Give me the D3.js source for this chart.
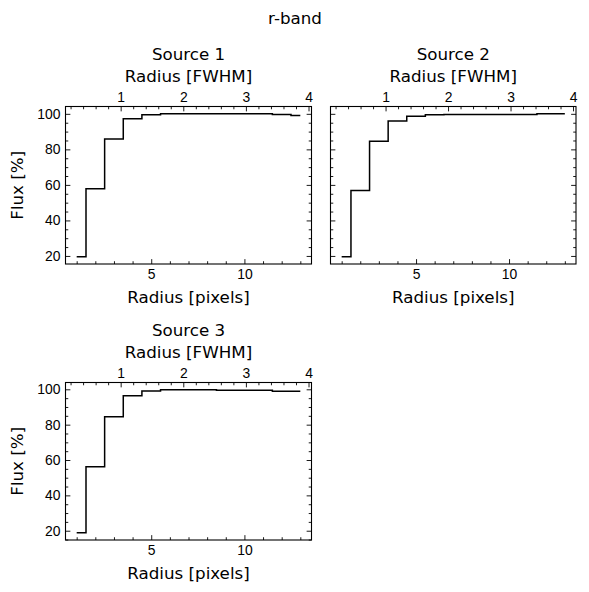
<!DOCTYPE html>
<html>
<head>
<meta charset="utf-8">
<script src="https://cdn.jsdelivr.net/npm/d3@7"></script>
<style>
  body { margin: 0; background: #fff; }
  svg { font-family: "DejaVu Sans", sans-serif; }
  .tick text { font-size: 13.9px; fill: #000; }
  .lbl { font-size: 16.7px; fill: #000; }
</style>
</head>
<body>
<div id="chart"></div>
<script>
const WIDTH = 589
const HEIGHT = 592

// data
const RADIUS_PX = [1, 2, 3, 4, 5, 6, 7, 8, 9, 10, 11, 12, 13]
const SOURCE_1 = [19.5, 57.8, 85.9, 97.2, 99.5, 100.1, 100.1, 100.1, 100.1, 100.1, 100.1, 99.6, 99.0]
const SOURCE_2 = [19.6, 56.9, 84.6, 95.9, 98.7, 99.5, 99.6, 99.6, 99.6, 99.6, 99.6, 100.0, 100.0]
const SOURCE_3 = [18.8, 56.2, 84.5, 96.4, 99.1, 99.8, 99.8, 99.8, 99.4, 99.4, 99.4, 98.9, 98.9]
const SOURCE_NAMES = ['Source 1', 'Source 2', 'Source 3']
const FWHM_PX = 3.36
const X_TICKS = [5, 10]
const Y_TICKS = [20, 40, 60, 80, 100]
const FWHM_TICKS = [1, 2, 3, 4]

const MAJOR = 4.86
const MINOR = 2.78

// panel boxes
const PANELS = [
  { name: SOURCE_NAMES[0], values: SOURCE_1, left: 65.5, top: 106.5, w: 246, h: 157.5, ylabels: true, group: 'a' },
  { name: SOURCE_NAMES[1], values: SOURCE_2, left: 330.5, top: 106.5, w: 245.5, h: 157.5, ylabels: false, group: 'a' },
  { name: SOURCE_NAMES[2], values: SOURCE_3, left: 65.5, top: 382.5, w: 246, h: 157.5, ylabels: true, group: 'b' }
]

function padded(ext) {
  let m = (ext[1] - ext[0]) * 0.05
  return [ext[0] - m, ext[1] + m]
}

let yDomains = {
  a: padded(d3.extent(SOURCE_1.concat(SOURCE_2))),
  b: padded(d3.extent(SOURCE_3))
}
let xDomain = padded(d3.extent(RADIUS_PX))

let svg = d3.select('#chart')
  .append('svg')
    .attr('width', WIDTH)
    .attr('height', HEIGHT)

svg.append('text')
  .attr('class', 'lbl')
  .attr('x', 295)
  .attr('y', 24)
  .attr('text-anchor', 'middle')
  .text('r-band')

function minorTicks(domain, step, majors) {
  let out = []
  let start = Math.ceil(domain[0] / step - 1e-9)
  for (let i = start; i * step <= domain[1] + 1e-9; i++) {
    let v = +(i * step).toFixed(6)
    if (!majors.some((m) => Math.abs(m - v) < 1e-6)) out.push(v)
  }
  return out
}

function styleAxis(g) {
  g.select('.domain').remove()
  g.selectAll('.tick line').attr('stroke', '#000').attr('stroke-width', 0.9)
}

PANELS.forEach((p) => {
  let g = svg.append('g')
    .attr('transform', 'translate(' + [p.left, p.top] + ')')

  let x = d3.scaleLinear().domain(xDomain).range([0, p.w])
  let y = d3.scaleLinear().domain(yDomains[p.group]).range([p.h, 0])
  let xf = d3.scaleLinear().domain(xDomain.map((d) => d / FWHM_PX)).range([0, p.w])

  // bottom axis
  g.append('g')
    .attr('transform', 'translate(0,' + p.h + ')')
    .call(d3.axisBottom(x).tickValues(X_TICKS).tickSize(-MAJOR).tickPadding(5).tickFormat(d3.format('d')))
    .call(styleAxis)
    .selectAll('.tick text').attr('dy', '0.71em')
  g.append('g')
    .attr('transform', 'translate(0,' + p.h + ')')
    .call(d3.axisBottom(x).tickValues(minorTicks(xDomain, 1, X_TICKS)).tickSize(-MINOR).tickFormat(''))
    .call(styleAxis)

  // top axis in FWHM
  g.append('g')
    .call(d3.axisTop(xf).tickValues(FWHM_TICKS).tickSize(-MAJOR).tickPadding(5).tickFormat(d3.format('d')))
    .call(styleAxis)
  g.append('g')
    .call(d3.axisTop(xf).tickValues(minorTicks(xf.domain(), 0.2, FWHM_TICKS)).tickSize(-MINOR).tickFormat(''))
    .call(styleAxis)

  // left and right axes
  let yMinor = minorTicks(y.domain(), 5, Y_TICKS)
  g.append('g')
    .call(d3.axisLeft(y).tickValues(Y_TICKS).tickSize(-MAJOR).tickPadding(5)
      .tickFormat(p.ylabels ? d3.format('d') : ''))
    .call(styleAxis)
  g.append('g')
    .call(d3.axisLeft(y).tickValues(yMinor).tickSize(-MINOR).tickFormat(''))
    .call(styleAxis)
  g.append('g')
    .attr('transform', 'translate(' + p.w + ',0)')
    .call(d3.axisRight(y).tickValues(Y_TICKS).tickSize(-MAJOR).tickFormat(''))
    .call(styleAxis)
  g.append('g')
    .attr('transform', 'translate(' + p.w + ',0)')
    .call(d3.axisRight(y).tickValues(yMinor).tickSize(-MINOR).tickFormat(''))
    .call(styleAxis)

  // the profile
  let line = d3.line()
    .x((d, i) => x(RADIUS_PX[i]))
    .y((d) => y(d))
    .curve(d3.curveStep)

  g.append('path')
    .datum(p.values)
    .attr('fill', 'none')
    .attr('stroke', '#000')
    .attr('stroke-width', 1.5)
    .attr('d', line)

  g.append('rect')
    .attr('width', p.w)
    .attr('height', p.h)
    .attr('fill', 'none')
    .attr('stroke', '#000')
    .attr('stroke-width', 1.1)

  // labels
  g.append('text')
    .attr('class', 'lbl')
    .attr('x', p.w / 2)
    .attr('y', -46.5)
    .attr('text-anchor', 'middle')
    .text(p.name)

  g.append('text')
    .attr('class', 'lbl')
    .attr('x', p.w / 2)
    .attr('y', -24.5)
    .attr('text-anchor', 'middle')
    .text('Radius [FWHM]')

  g.append('text')
    .attr('class', 'lbl')
    .attr('x', p.w / 2)
    .attr('y', p.h + 39)
    .attr('text-anchor', 'middle')
    .text('Radius [pixels]')

  if (p.ylabels) {
    g.append('text')
      .attr('class', 'lbl')
      .attr('transform', 'translate(' + [23 - p.left, p.h / 2] + ')rotate(-90)')
      .attr('text-anchor', 'middle')
      .text('Flux [%]')
  }
})
</script>
</body>
</html>
